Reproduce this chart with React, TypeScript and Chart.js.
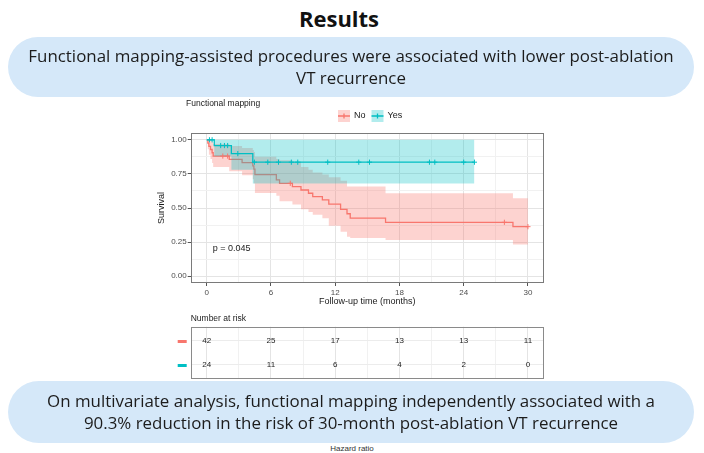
import React, { useEffect, useRef } from 'react';
import { Chart, registerables } from 'chart.js';
Chart.register(...registerables);

// ---------- data ----------
const GROUPS = ['No', 'Yes'];
const RED = '#F8766D';
const TEAL = '#00BFC4';
const RED_BAND = 'rgba(248,118,109,0.32)';
const TEAL_BAND = 'rgba(0,191,196,0.30)';

// Kaplan-Meier, Functional mapping = No
const TIME_NO = [0, 0.1, 0.2, 0.35, 0.5, 0.6, 2.1, 3.3, 4.3, 4.4, 4.5, 6.5, 6.8, 8.0, 8.8, 9.5, 9.9, 10.8, 11.4, 12.5, 13.1, 13.4, 16.7, 28.6, 30];
const SURV_NO = [1, 0.976, 0.952, 0.929, 0.905, 0.881, 0.857, 0.833, 0.809, 0.785, 0.745, 0.706, 0.681, 0.657, 0.632, 0.608, 0.583, 0.559, 0.528, 0.49, 0.458, 0.426, 0.395, 0.363, 0.363];
const UPPER_NO = [1, 1, 1, 0.995, 0.985, 0.97, 0.955, 0.94, 0.925, 0.91, 0.875, 0.86, 0.85, 0.84, 0.8, 0.78, 0.76, 0.745, 0.725, 0.7, 0.657, 0.657, 0.608, 0.571, 0.571];
const LOWER_NO = [1, 0.93, 0.89, 0.86, 0.83, 0.8, 0.77, 0.74, 0.71, 0.68, 0.61, 0.59, 0.55, 0.525, 0.49, 0.47, 0.45, 0.425, 0.37, 0.326, 0.289, 0.28, 0.265, 0.233, 0.233];
const CENSOR_NO = [1.5, 1.95, 7.8, 27.8, 30];

// Kaplan-Meier, Functional mapping = Yes
const TIME_YES = [0, 0.7, 2.3, 4.3, 25];
const SURV_YES = [1, 0.958, 0.899, 0.836, 0.836];
const UPPER_YES = [1, 1, 1, 1, 1];
const LOWER_YES = [1, 0.88, 0.78, 0.68, 0.68];
const CENSOR_YES = [0.25, 0.5, 1.3, 1.65, 1.95, 2.9, 4.45, 5.7, 6.7, 7.9, 8.5, 11.3, 14.2, 15.2, 20.8, 21.3, 24.0, 25.0];

const P_LABEL = 'p = 0.045';
const P_POS = [0.55, 0.2];

// axes
const X_MAJOR = [0, 6, 12, 18, 24, 30];
const X_MINOR = [3, 9, 15, 21, 27];
const Y_MAJOR = [0, 0.25, 0.5, 0.75, 1];
const Y_MINOR = [0.125, 0.375, 0.625, 0.875];

// number at risk
const RISK_TIMES = [0, 6, 12, 18, 24, 30];
const RISK_NO = [42, 25, 17, 13, 13, 11];
const RISK_YES = [24, 11, 6, 4, 2, 0];

// ---------- helpers ----------
const FONT = '"Liberation Sans", Arial, Helvetica, sans-serif';
const pts = (ts: number[], vs: number[]) => ts.map((t, i) => ({ x: t, y: vs[i] }));
function stepValue(ts: number[], vs: number[], t: number) {
  let v = vs[0];
  for (let i = 0; i < ts.length; i++) if (ts[i] <= t) v = vs[i];
  return v;
}
const isIn = (arr: number[], v: number) => arr.some((a) => Math.abs(a - v) < 1e-6);

const kmDecor = {
  id: 'kmDecor',
  afterDraw(chart: any) {
    const { ctx, chartArea: a, scales } = chart;
    ctx.save();
    // p-value
    ctx.font = `9px ${FONT}`;
    ctx.fillStyle = '#1a1a1a';
    ctx.textAlign = 'left';
    ctx.textBaseline = 'middle';
    ctx.fillText(P_LABEL, scales.x.getPixelForValue(P_POS[0]), scales.y.getPixelForValue(P_POS[1]));
    // panel border
    ctx.strokeStyle = '#7a7a7a';
    ctx.lineWidth = 1;
    ctx.strokeRect(Math.round(a.left) + 0.5, Math.round(a.top) + 0.5, Math.round(a.right - a.left) - 1, Math.round(a.bottom - a.top) - 1);
    // legend
    ctx.font = `8.5px ${FONT}`;
    ctx.fillStyle = '#1a1a1a';
    ctx.textAlign = 'left';
    ctx.fillText('Functional mapping', 36, 9);
    const keys = [
      { x: 188, tx: 204, c: RED, b: RED_BAND, label: GROUPS[0] },
      { x: 221.5, tx: 237.5, c: TEAL, b: TEAL_BAND, label: GROUPS[1] },
    ];
    const ky = 21;
    keys.forEach((k) => {
      ctx.fillStyle = k.b;
      ctx.fillRect(k.x, ky - 6, 12, 12);
      ctx.strokeStyle = k.c;
      ctx.lineWidth = 1.3;
      ctx.beginPath();
      ctx.moveTo(k.x, ky);
      ctx.lineTo(k.x + 12, ky);
      ctx.moveTo(k.x + 6, ky - 2.5);
      ctx.lineTo(k.x + 6, ky + 2.5);
      ctx.stroke();
      ctx.fillStyle = '#1a1a1a';
      ctx.font = `9px ${FONT}`;
      ctx.fillText(k.label, k.tx, ky);
    });
    ctx.restore();
  },
};

const riskDecor = {
  id: 'riskDecor',
  afterDraw(chart: any) {
    const { ctx, chartArea: a } = chart;
    ctx.save();
    ctx.strokeStyle = '#8a8a8a';
    ctx.lineWidth = 1;
    ctx.strokeRect(Math.round(a.left) + 0.5, Math.round(a.top) + 0.5, Math.round(a.right - a.left) - 1, Math.round(a.bottom - a.top) - 1);
    ctx.font = `8px ${FONT}`;
    ctx.textAlign = 'center';
    ctx.textBaseline = 'middle';
    ctx.fillStyle = '#222';
    const rows = [RISK_NO, RISK_YES];
    const colors = [RED, TEAL];
    rows.forEach((row, di) => {
      const meta = chart.getDatasetMeta(di);
      meta.data.forEach((el: any, i: number) => {
        ctx.fillStyle = '#222';
        ctx.fillText(String(row[i]), el.x, el.y);
      });
      const y0 = meta.data[0].y;
      ctx.fillStyle = colors[di];
      ctx.fillRect(a.left - 13, Math.round(y0) - 1, 9, 3);
    });
    ctx.font = `8.5px ${FONT}`;
    ctx.textAlign = 'left';
    ctx.fillStyle = '#1a1a1a';
    ctx.fillText('Number at risk', a.left, 14);
    ctx.restore();
  },
};

const gridColor = (major: number[], v: number) => (isIn(major, v) ? '#e4e4e4' : '#f1f1f1');

function KMChart() {
  const ref = useRef<HTMLCanvasElement>(null);
  useEffect(() => {
    const base = { pointRadius: 0, pointHoverRadius: 0, stepped: true as const, tension: 0 };
    const chart = new Chart(ref.current!, {
      type: 'line',
      data: {
        datasets: [
          {
            label: 'Yes censor',
            data: CENSOR_YES.map((t) => ({ x: t, y: stepValue(TIME_YES, SURV_YES, t) })),
            showLine: false, pointStyle: 'cross', pointRadius: 2.6, borderColor: TEAL, backgroundColor: TEAL, borderWidth: 1,
          } as any,
          {
            label: 'No censor',
            data: CENSOR_NO.map((t) => ({ x: t, y: stepValue(TIME_NO, SURV_NO, t) })),
            showLine: false, pointStyle: 'cross', pointRadius: 2.6, borderColor: RED, backgroundColor: RED, borderWidth: 1,
          },
          { label: GROUPS[1], data: pts(TIME_YES, SURV_YES), ...base, borderColor: TEAL, borderWidth: 1.3, fill: false },
          { label: 'Yes lower', data: pts(TIME_YES, LOWER_YES), ...base, borderColor: 'rgba(0,0,0,0)', borderWidth: 0, fill: false },
          { label: 'Yes upper', data: pts(TIME_YES, UPPER_YES), ...base, borderColor: 'rgba(0,0,0,0)', borderWidth: 0, backgroundColor: TEAL_BAND, fill: '-1' },
          { label: GROUPS[0], data: pts(TIME_NO, SURV_NO), ...base, borderColor: RED, borderWidth: 1.3, fill: false },
          { label: 'No lower', data: pts(TIME_NO, LOWER_NO), ...base, borderColor: 'rgba(0,0,0,0)', borderWidth: 0, fill: false },
          { label: 'No upper', data: pts(TIME_NO, UPPER_NO), ...base, borderColor: 'rgba(0,0,0,0)', borderWidth: 0, backgroundColor: RED_BAND, fill: '-1' },
        ],
      },
      options: {
        animation: false,
        responsive: false,
        devicePixelRatio: 1,
        layout: { padding: { top: 38, right: 16, left: 0, bottom: 0 } },
        plugins: { legend: { display: false }, tooltip: { enabled: false } },
        scales: {
          x: {
            type: 'linear', min: -1.5, max: 31.5,
            afterBuildTicks: (s: any) => { s.ticks = [...X_MAJOR, ...X_MINOR].sort((p, q) => p - q).map((v) => ({ value: v })); },
            afterFit: (s: any) => { s.height = 27; },
            ticks: {
              autoSkip: false, maxRotation: 0, padding: 2, color: '#4d4d4d', font: { size: 8, family: FONT },
              callback: (v: any) => (isIn(X_MAJOR, Number(v)) ? String(v) : ''),
            },
            grid: {
              color: (c: any) => gridColor(X_MAJOR, c.tick ? c.tick.value : 0),
              lineWidth: 1, tickLength: 3,
              tickColor: (c: any) => (c.tick && isIn(X_MAJOR, c.tick.value) ? '#555' : 'rgba(0,0,0,0)'),
            },
            border: { display: false },
            title: { display: true, text: 'Follow-up time (months)', color: '#1a1a1a', font: { size: 9, family: FONT }, padding: { top: 0, bottom: 3 } },
          },
          y: {
            type: 'linear', min: -0.05, max: 1.05,
            afterBuildTicks: (s: any) => { s.ticks = [...Y_MAJOR, ...Y_MINOR].sort((p, q) => p - q).map((v) => ({ value: v })); },
            afterFit: (s: any) => { s.width = 40.7; },
            ticks: {
              autoSkip: false, padding: 1, color: '#4d4d4d', font: { size: 8, family: FONT },
              callback: (v: any) => (isIn(Y_MAJOR, Number(v)) ? Number(v).toFixed(2) : ''),
            },
            grid: {
              color: (c: any) => gridColor(Y_MAJOR, c.tick ? c.tick.value : 0),
              lineWidth: 1, tickLength: 3,
              tickColor: (c: any) => (c.tick && isIn(Y_MAJOR, c.tick.value) ? '#555' : 'rgba(0,0,0,0)'),
            },
            border: { display: false },
            title: { display: true, text: 'Survival', color: '#1a1a1a', font: { size: 9, family: FONT }, padding: { top: 6, bottom: 0 } },
          },
        },
      } as any,
      plugins: [kmDecor],
    });
    return () => chart.destroy();
  }, []);
  return <canvas ref={ref} width={410} height={215} style={{ position: 'absolute', left: 150, top: 95 }} />;
}

function RiskChart() {
  const ref = useRef<HTMLCanvasElement>(null);
  useEffect(() => {
    const chart = new Chart(ref.current!, {
      type: 'scatter',
      data: {
        datasets: [
          { label: GROUPS[0], data: RISK_TIMES.map((t) => ({ x: t, y: 1 })), pointRadius: 0 },
          { label: GROUPS[1], data: RISK_TIMES.map((t) => ({ x: t, y: 2 })), pointRadius: 0 },
        ],
      },
      options: {
        animation: false,
        responsive: false,
        devicePixelRatio: 1,
        layout: { padding: { top: 21.7, right: 16, left: 0, bottom: 3 } },
        plugins: { legend: { display: false }, tooltip: { enabled: false } },
        scales: {
          x: {
            type: 'linear', min: -1.5, max: 31.5,
            afterBuildTicks: (s: any) => { s.ticks = [...X_MAJOR, ...X_MINOR].sort((p, q) => p - q).map((v) => ({ value: v })); },
            afterFit: (s: any) => { s.height = 0; },
            ticks: { display: false },
            grid: { color: (c: any) => gridColor(X_MAJOR, c.tick ? c.tick.value : 0), drawTicks: false },
            border: { display: false },
          },
          y: {
            type: 'linear', min: 0.4, max: 2.6, reverse: true,
            afterBuildTicks: (s: any) => { s.ticks = [1, 2].map((v) => ({ value: v })); },
            afterFit: (s: any) => { s.width = 40.7; },
            ticks: { display: false },
            grid: { color: '#ececec', drawTicks: false },
            border: { display: false },
          },
        },
      } as any,
      plugins: [riskDecor],
    });
    return () => chart.destroy();
  }, []);
  return <canvas ref={ref} width={410} height={77} style={{ position: 'absolute', left: 150, top: 305 }} />;
}

const pillStyle: React.CSSProperties = {
  position: 'absolute', left: 8, width: 686, background: '#D5E8F9', borderRadius: 32,
  display: 'flex', alignItems: 'center', justifyContent: 'center', textAlign: 'center',
  fontFamily: '"Open Sans", sans-serif', fontSize: 16.9, lineHeight: '22px', color: '#1c1c1c', zIndex: 2,
  whiteSpace: 'nowrap',
};

export default function App() {
  return (
    <div style={{ position: 'absolute', left: 0, top: 0, width: 704, height: 453, background: '#fff', overflow: 'hidden' }}>
      <div style={{ position: 'absolute', left: -13, top: 3, width: 704, textAlign: 'center', fontFamily: '"Open Sans", sans-serif', fontWeight: 700, fontSize: 22, lineHeight: '30px', color: '#111' }}>
        Results
      </div>
      <div style={{ ...pillStyle, top: 37, height: 60 }}>
        <div>Functional mapping-assisted procedures were associated with lower post-ablation<br />VT recurrence</div>
      </div>
      <KMChart />
      <RiskChart />
      <div style={{ ...pillStyle, top: 381, height: 62 }}>
        <div>On multivariate analysis, functional mapping independently associated with a<br />90.3% reduction in the risk of 30-month post-ablation VT recurrence</div>
      </div>
      <div style={{ position: 'absolute', left: 0, top: 443, width: 704, textAlign: 'center', fontFamily: FONT, fontSize: 8, lineHeight: '12px', color: '#333' }}>
        Hazard ratio
      </div>
    </div>
  );
}
